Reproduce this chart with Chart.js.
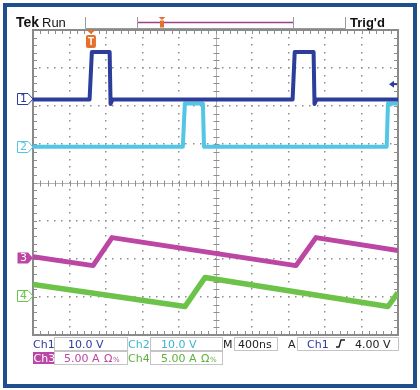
<!DOCTYPE html>
<html><head><meta charset="utf-8">
<script src="https://cdn.jsdelivr.net/npm/chart.js@4"></script>
<style>html,body{margin:0;padding:0;background:#fff;}canvas{display:block;}</style>
</head><body>
<canvas id="c" width="420" height="390"></canvas>
<script>
// ---- data (time in ns, values in channel units) ----
const ch1TimeNs = [0, 620, 645, 840, 850, 872, 2845, 2868, 3075, 3085, 3107, 4000];
const ch1Volts  = [0, 0, 12.4, 12.4, -1.2, 0, 0, 12.4, 12.4, -1.2, 0, 0];
const ch2TimeNs = [0, 1642, 1664, 1862, 1874, 3876, 3890, 4000];
const ch2Volts  = [0, 0, 11.3, 11.3, 0, 0, 11.3, 11.3];
const ch3TimeNs = [0, 658, 866, 2882, 3101, 4000];
const ch3Amps   = [0.13, -1.05, 2.62, -1.05, 2.62, 0.92];
const ch4TimeNs = [0, 1666, 1885, 3890, 4000];
const ch4Amps   = [1.57, -1.31, 2.49, -1.31, 0.52];

const channelNames = ['1', '2', '3', '4'];
const channelPosDiv = [2.18, 0.94, -1.97, -2.99];
const channelPerDiv = [10, 10, 5, 5];
const channelColors = ['#2d3d9c', '#52c6e4', '#bc46a3', '#6dc34a'];

const timePerDivNs = 400;
const timeDivs = 10;
const vertDivs = 8;
const triggerTimeNs = 635;
const triggerLevelVolts = 4.0;

const readoutRow1 = ['Ch1', '10.0 V', 'Ch2', '10.0 V', 'M', '400ns', 'A', 'Ch1', '4.00 V'];
const readoutRow2 = ['Ch3', '5.00 A', 'Ch4', '5.00 A'];

function toDiv(times, vals, ch) {
  return times.map((t, i) => ({ x: t, y: channelPosDiv[ch] + vals[i] / channelPerDiv[ch] }));
}

const scopePlugin = {
  id: 'scope',
  beforeDatasetsDraw(chart) {
    const { ctx, chartArea: a } = chart;
    const xs = chart.scales.x, ys = chart.scales.y;
    ctx.save();
    const gray = '#8e8e8e';
    ctx.fillStyle = gray;
    for (let i = 1; i < timeDivs; i++) {
      if (i === timeDivs / 2) continue;
      const x = Math.round(xs.getPixelForValue(i * timePerDivNs));
      for (let k = 1; k < vertDivs * 5; k++) {
        const y = Math.round(ys.getPixelForValue(-vertDivs / 2 + k * 0.2));
        ctx.fillRect(x - 1, y - 1, 1.5, 1.5);
      }
    }
    for (let j = 1; j < vertDivs; j++) {
      if (j === vertDivs / 2) continue;
      const y = Math.round(ys.getPixelForValue(-vertDivs / 2 + j));
      for (let k = 1; k < timeDivs * 5; k++) {
        const x = Math.round(xs.getPixelForValue(k * timePerDivNs / 5));
        ctx.fillRect(x - 1, y - 1, 1.5, 1.5);
      }
    }
    const cx = Math.round(xs.getPixelForValue(timeDivs / 2 * timePerDivNs)) + 0.5;
    const cy = Math.round(ys.getPixelForValue(0)) + 0.5;
    ctx.strokeStyle = '#b4b4b4';
    ctx.lineWidth = 1;
    ctx.beginPath();
    ctx.moveTo(a.left, cy); ctx.lineTo(a.right, cy);
    ctx.moveTo(cx, a.top); ctx.lineTo(cx, a.bottom);
    ctx.stroke();
    ctx.strokeStyle = gray;
    ctx.beginPath();
    for (let k = 1; k < timeDivs * 5; k++) {
      const x = Math.round(xs.getPixelForValue(k * timePerDivNs / 5)) + 0.5;
      ctx.moveTo(x, cy - 3); ctx.lineTo(x, cy + 3);
      ctx.moveTo(x, a.top); ctx.lineTo(x, a.top + 4);
      ctx.moveTo(x, a.bottom); ctx.lineTo(x, a.bottom - 4);
    }
    for (let k = 1; k < vertDivs * 5; k++) {
      const y = Math.round(ys.getPixelForValue(-vertDivs / 2 + k * 0.2)) + 0.5;
      ctx.moveTo(cx - 3, y); ctx.lineTo(cx + 3, y);
      ctx.moveTo(a.left, y); ctx.lineTo(a.left + 4, y);
      ctx.moveTo(a.right, y); ctx.lineTo(a.right - 4, y);
    }
    ctx.stroke();
    ctx.lineWidth = 2;
    ctx.strokeStyle = '#8a8a8a';
    ctx.strokeRect(a.left, a.top, a.right - a.left, a.bottom - a.top);
    ctx.restore();
  },
  afterDraw(chart) {
    const { ctx, chartArea: a } = chart;
    const xs = chart.scales.x, ys = chart.scales.y;
    ctx.save();
    ctx.font = '11px "DejaVu Sans"';
    ctx.textAlign = 'center';
    ctx.textBaseline = 'middle';
    channelNames.forEach((n, i) => {
      const y = Math.round(ys.getPixelForValue(channelPosDiv[i]));
      const c = channelColors[i];
      ctx.beginPath();
      ctx.moveTo(17.5, y - 5.5); ctx.lineTo(28, y - 5.5); ctx.lineTo(33, y);
      ctx.lineTo(28, y + 5.5); ctx.lineTo(17.5, y + 5.5); ctx.closePath();
      if (i === 2) { ctx.fillStyle = c; ctx.fill(); }
      else { ctx.fillStyle = '#fff'; ctx.fill(); ctx.lineWidth = 1; ctx.strokeStyle = c; ctx.stroke(); }
      ctx.fillStyle = i === 2 ? '#fff' : c;
      ctx.fillText(n, 23.5, y + 0.5);
    });
    const ty = ys.getPixelForValue(channelPosDiv[0] + triggerLevelVolts / channelPerDiv[0]);
    ctx.fillStyle = channelColors[0];
    ctx.beginPath();
    ctx.moveTo(389, ty); ctx.lineTo(394, ty - 3.5); ctx.lineTo(394, ty + 3.5); ctx.closePath(); ctx.fill();
    ctx.fillRect(393, ty - 1, 4, 2);
    const tx = xs.getPixelForValue(triggerTimeNs);
    const orange = '#e5702c';
    ctx.fillStyle = orange;
    ctx.beginPath();
    ctx.moveTo(tx - 4.5, a.top); ctx.lineTo(tx + 4.5, a.top); ctx.lineTo(tx, a.top + 4); ctx.closePath(); ctx.fill();
    ctx.beginPath();
    if (ctx.roundRect) ctx.roundRect(tx - 5, a.top + 5, 10, 13, 2); else ctx.rect(tx - 5, a.top + 5, 10, 13);
    ctx.fill();
    ctx.fillStyle = '#fff';
    ctx.font = 'bold 10px "Liberation Sans"';
    ctx.fillText('T', tx, a.top + 12);

    ctx.textAlign = 'left';
    ctx.textBaseline = 'alphabetic';
    ctx.fillStyle = '#111';
    ctx.font = 'bold 14px "Liberation Sans"';
    ctx.fillText('Tek', 16, 27);
    ctx.font = '13px "Liberation Sans"';
    ctx.fillText('Run', 42, 27);
    ctx.font = 'bold 13px "Liberation Sans"';
    ctx.fillText("Trig'd", 350, 27);
    ctx.strokeStyle = '#9a9a9a';
    ctx.lineWidth = 1;
    ctx.beginPath();
    ctx.moveTo(85.5, 17); ctx.lineTo(85.5, 28.5); ctx.lineTo(345.5, 28.5); ctx.lineTo(345.5, 17);
    ctx.moveTo(137.5, 17); ctx.lineTo(137.5, 28);
    ctx.moveTo(293.5, 17); ctx.lineTo(293.5, 28);
    ctx.stroke();
    ctx.strokeStyle = '#9b3f8e';
    ctx.lineWidth = 1.5;
    ctx.beginPath(); ctx.moveTo(138, 22.5); ctx.lineTo(293, 22.5); ctx.stroke();
    ctx.fillStyle = orange;
    ctx.beginPath();
    ctx.moveTo(158.5, 17); ctx.lineTo(165.5, 17); ctx.lineTo(162, 20); ctx.closePath(); ctx.fill();
    ctx.fillRect(160, 20.5, 4, 7);

    const dark = '#222';
    ctx.font = '11px "DejaVu Sans"';
    ctx.strokeStyle = '#c4c4c4';
    ctx.lineWidth = 1;
    ctx.strokeRect(54.5, 337.5, 73, 13);
    ctx.strokeRect(150.5, 337.5, 72, 13);
    ctx.strokeRect(234.5, 337.5, 43, 13);
    ctx.strokeRect(297.5, 337.5, 101, 13);
    ctx.strokeRect(54.5, 351.5, 73, 13);
    ctx.strokeRect(150.5, 351.5, 72, 13);
    const r1 = 348, r2 = 362;
    ctx.fillStyle = channelColors[0]; ctx.fillText(readoutRow1[0], 33, r1);
    ctx.fillText(readoutRow1[1], 68, r1);
    ctx.fillStyle = '#3fb3d3'; ctx.fillText(readoutRow1[2], 128, r1);
    ctx.fillText(readoutRow1[3], 161, r1);
    ctx.fillStyle = dark; ctx.fillText(readoutRow1[4], 223, r1);
    ctx.fillText(readoutRow1[5], 238, r1);
    ctx.fillText(readoutRow1[6], 288, r1);
    ctx.fillStyle = channelColors[0]; ctx.fillText(readoutRow1[7], 307, r1);
    ctx.fillStyle = dark; ctx.fillText(readoutRow1[8], 355, r1);
    ctx.strokeStyle = dark; ctx.lineWidth = 1.4;
    ctx.beginPath(); ctx.moveTo(336, r1 - 1); ctx.lineTo(339, r1 - 1); ctx.lineTo(341, r1 - 8); ctx.lineTo(345, r1 - 8); ctx.stroke();
    ctx.fillStyle = channelColors[2]; ctx.fillRect(33, 352, 21, 12);
    ctx.fillStyle = '#fff'; ctx.fillText(readoutRow2[0], 33.5, r2);
    ctx.fillStyle = channelColors[2]; ctx.fillText(readoutRow2[1], 64, r2);
    ctx.font = '11px "DejaVu Sans"'; ctx.fillText('Ω', 104, r2);
    ctx.font = '7px "DejaVu Sans"'; ctx.fillText('%', 113, r2);
    ctx.font = '11px "DejaVu Sans"';
    ctx.fillStyle = '#5db13c'; ctx.fillText(readoutRow2[2], 128, r2);
    ctx.fillText(readoutRow2[3], 161, r2);
    ctx.font = '11px "DejaVu Sans"'; ctx.fillText('Ω', 201, r2);
    ctx.font = '7px "DejaVu Sans"'; ctx.fillText('%', 210, r2);

    ctx.strokeStyle = '#1f4e8c';
    ctx.lineWidth = 4;
    ctx.strokeRect(5, 5, 410, 381);
    ctx.restore();
  }
};

new Chart(document.getElementById('c'), {
  type: 'line',
  data: {
    datasets: [
      { data: toDiv(ch1TimeNs, ch1Volts, 0), borderColor: channelColors[0], borderWidth: 4 },
      { data: toDiv(ch2TimeNs, ch2Volts, 1), borderColor: channelColors[1], borderWidth: 4 },
      { data: toDiv(ch3TimeNs, ch3Amps, 2), borderColor: channelColors[2], borderWidth: 5 },
      { data: toDiv(ch4TimeNs, ch4Amps, 3), borderColor: channelColors[3], borderWidth: 5.5 }
    ]
  },
  options: {
    responsive: false,
    animation: false,
    devicePixelRatio: 1,
    layout: { padding: { left: 33, top: 30, right: 22, bottom: 55 } },
    elements: { point: { radius: 0 }, line: { tension: 0, borderJoinStyle: 'round', fill: false } },
    plugins: { legend: { display: false }, tooltip: { enabled: false } },
    scales: {
      x: { type: 'linear', min: 0, max: timeDivs * timePerDivNs, display: false },
      y: { type: 'linear', min: -vertDivs / 2, max: vertDivs / 2, display: false }
    }
  },
  plugins: [scopePlugin]
});
</script>
</body></html>
